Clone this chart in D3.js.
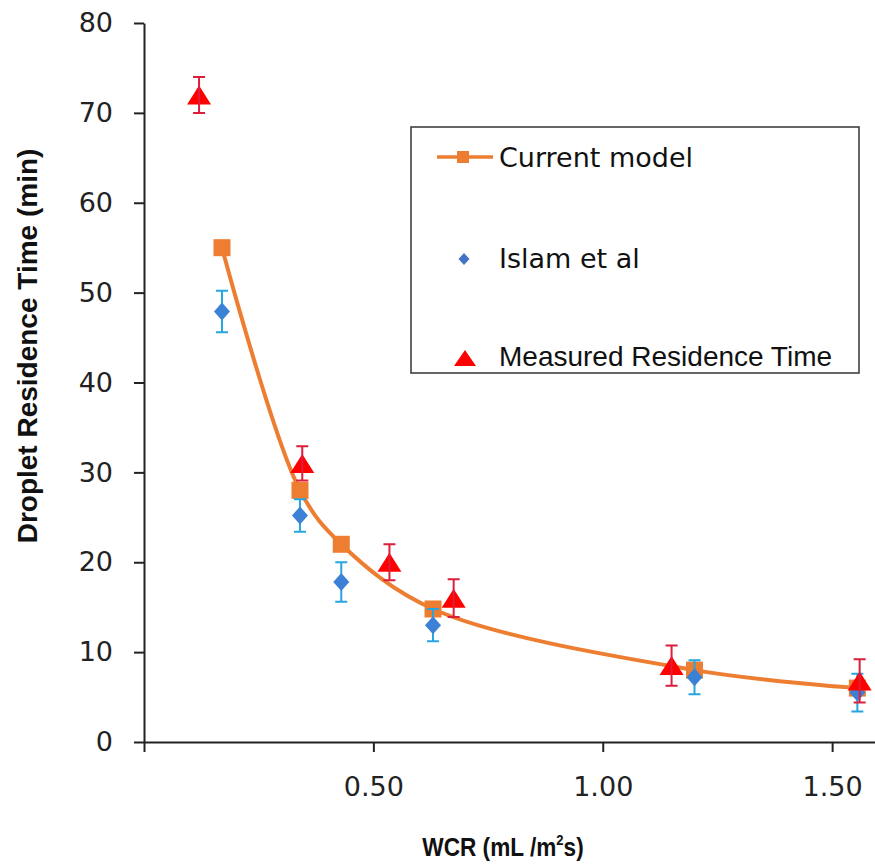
<!DOCTYPE html>
<html>
<head>
<meta charset="utf-8">
<script src="https://cdn.jsdelivr.net/npm/d3@7"></script>
<style>
  body { margin: 0; background: #fff; }
  svg { display: block; }
</style>
</head>
<body>
<div id="chart"></div>
<script>
// WCR values (mL/m2s) and residence times (min)
const modelX = [0.17, 0.34, 0.43, 0.63, 1.20, 1.555];
const modelY = [55, 28, 22, 14.8, 8, 6];

const islamX = [0.17, 0.34, 0.43, 0.63, 1.20, 1.555];
const islamY = [47.9, 25.2, 17.8, 13.0, 7.2, 5.5];
const islamErr = [2.3, 1.8, 2.2, 1.8, 1.9, 2.1];

const measX = [0.12, 0.345, 0.535, 0.675, 1.15, 1.56];
const measY = [72, 31, 20, 16, 8.5, 6.8];
const measErr = [2, 1.9, 2, 2.1, 2.25, 2.4];

const yTicks = [0, 10, 20, 30, 40, 50, 60, 70, 80];
const xTicks = [0, 0.5, 1.0, 1.5];

const legendLabels = ['Current model', 'Islam et al', 'Measured Residence Time'];

const width = 875, height = 865;

const svg = d3.select('#chart').append('svg')
    .attr('width', width)
    .attr('height', height);

const x = d3.scaleLinear().domain([0, 1.6]).range([144, 878]);
const y = d3.scaleLinear().domain([0, 80]).range([742, 23]);

const tickFont = '"DejaVu Sans", Verdana, sans-serif';

// y axis
const yAxis = svg.append('g')
    .attr('transform', `translate(${x(0)},0)`)
    .call(d3.axisLeft(y).tickValues(yTicks).tickSize(10).tickSizeOuter(0).tickPadding(21));
yAxis.select('.domain').attr('stroke', '#222').attr('stroke-width', 2);
yAxis.selectAll('.tick line').attr('stroke', '#222').attr('stroke-width', 2);
yAxis.selectAll('.tick text')
    .attr('font-family', tickFont).attr('font-size', 27).attr('fill', '#222');

// x axis
const xAxis = svg.append('g')
    .attr('transform', `translate(0,${y(0)})`)
    .call(d3.axisBottom(x).tickValues(xTicks).tickSize(10).tickSizeOuter(0).tickPadding(25)
        .tickFormat(d => d === 0 ? '' : d3.format('.2f')(d)));
xAxis.select('.domain').attr('stroke', '#222').attr('stroke-width', 2);
xAxis.selectAll('.tick line').attr('stroke', '#222').attr('stroke-width', 2);
xAxis.selectAll('.tick text')
    .attr('font-family', tickFont).attr('font-size', 27).attr('fill', '#222');

// axis titles
svg.append('text')
    .attr('transform', `translate(37,346) rotate(-90)`)
    .attr('text-anchor', 'middle')
    .attr('font-family', '"Liberation Sans", Arial, sans-serif')
    .attr('font-weight', 'bold')
    .attr('font-size', 28)
    .attr('fill', '#111')
    .text('Droplet Residence Time (min)');

// x title is drawn a little condensed, like the original
const xTitle = svg.append('text')
    .attr('transform', 'translate(503,856) scale(0.87,1)')
    .attr('text-anchor', 'middle')
    .attr('font-family', '"Liberation Sans", Arial, sans-serif')
    .attr('font-weight', 'bold')
    .attr('font-size', 26)
    .attr('fill', '#111');
xTitle.append('tspan').text('WCR (mL /m');
xTitle.append('tspan').attr('font-size', 15).attr('dy', -11).text('2');
xTitle.append('tspan').attr('dy', 11).text('s)');

// marker shapes
const squarePath = s => `M${-s / 2},${-s / 2}h${s}v${s}h${-s}Z`;
const diamondPath = (w, h) => `M0,${-h / 2}L${w / 2},0L0,${h / 2}L${-w / 2},0Z`;
const trianglePath = (w, h) => `M0,${-h / 2}L${w / 2},${h / 2}L${-w / 2},${h / 2}Z`;

const orange = '#ed7d31';
const blue = '#3b82d6';
const cyan = '#26a6e0';
const red = '#ff0000';
const crimson = '#dc1e3c';

// current model: smoothed line + squares
const modelData = modelX.map((d, i) => ({ x: d, y: modelY[i] }));
svg.append('path')
    .datum(modelData)
    .attr('fill', 'none')
    .attr('stroke', orange)
    .attr('stroke-width', 4)
    .attr('d', d3.line().x(d => x(d.x)).y(d => y(d.y)).curve(d3.curveCatmullRom.alpha(0.5)));

svg.append('g').selectAll('path')
    .data(modelData)
    .join('path')
    .attr('transform', d => `translate(${x(d.x)},${y(d.y)})`)
    .attr('d', squarePath(17))
    .attr('fill', orange);

// error bar helper
function errorBars(data, color) {
    const g = svg.append('g')
        .attr('stroke', color)
        .attr('stroke-width', 2)
        .attr('fill', 'none');
    g.selectAll('path')
        .data(data)
        .join('path')
        .attr('d', d => {
            const cx = x(d.x), top = y(d.y + d.e), bot = y(d.y - d.e);
            return `M${cx},${top}V${bot}M${cx - 6},${top}H${cx + 6}M${cx - 6},${bot}H${cx + 6}`;
        });
}

// Islam et al
const islamData = islamX.map((d, i) => ({ x: d, y: islamY[i], e: islamErr[i] }));
errorBars(islamData, cyan);
svg.append('g').selectAll('path')
    .data(islamData)
    .join('path')
    .attr('transform', d => `translate(${x(d.x)},${y(d.y)})`)
    .attr('d', diamondPath(16, 18))
    .attr('fill', blue);

// measured residence time
const measData = measX.map((d, i) => ({ x: d, y: measY[i], e: measErr[i] }));
svg.append('g').selectAll('path')
    .data(measData)
    .join('path')
    .attr('transform', d => `translate(${x(d.x)},${y(d.y)})`)
    .attr('d', trianglePath(24, 19))
    .attr('fill', red);
errorBars(measData, crimson);

// legend
const legend = svg.append('g');
legend.append('rect')
    .attr('x', 411).attr('y', 127)
    .attr('width', 448).attr('height', 246)
    .attr('fill', '#fff')
    .attr('stroke', '#333')
    .attr('stroke-width', 1.5);

legend.append('line')
    .attr('x1', 437).attr('x2', 493)
    .attr('y1', 157).attr('y2', 157)
    .attr('stroke', orange).attr('stroke-width', 3.5);
legend.append('path')
    .attr('transform', 'translate(463,157)')
    .attr('d', squarePath(12))
    .attr('fill', orange);
legend.append('path')
    .attr('transform', 'translate(464,259)')
    .attr('d', diamondPath(11, 12))
    .attr('fill', '#4472c4');
legend.append('path')
    .attr('transform', 'translate(465,358)')
    .attr('d', trianglePath(22, 16))
    .attr('fill', red);

legend.selectAll('text')
    .data(legendLabels)
    .join('text')
    .attr('x', 499)
    .attr('y', (d, i) => [167, 268, 366][i])
    .attr('font-family', (d, i) => i < 2 ? tickFont : '"Liberation Sans", Arial, sans-serif')
    .attr('font-size', (d, i) => i < 2 ? 27 : 28)
    .attr('fill', '#111')
    .text(d => d);
</script>
</body>
</html>
